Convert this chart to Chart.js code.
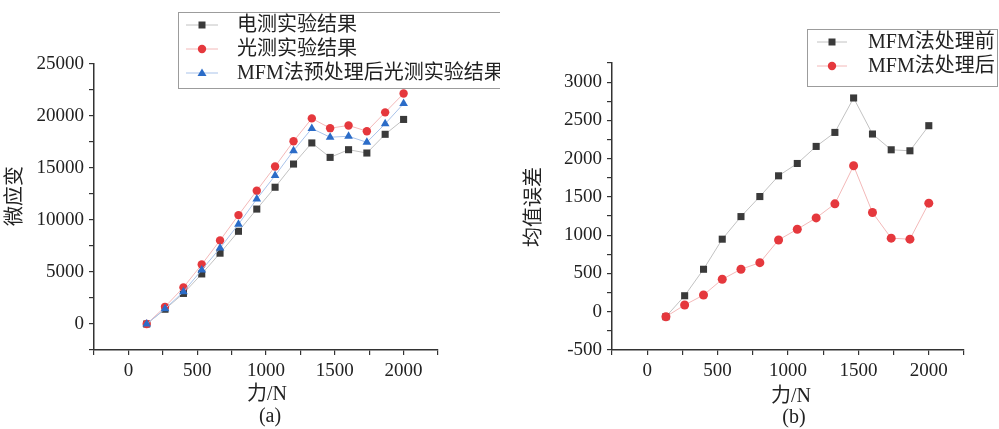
<!DOCTYPE html>
<html>
<head>
<meta charset="utf-8">
<title>微应变 / 均值误差</title>
<script src="https://cdn.jsdelivr.net/npm/chart.js@4.4.1/dist/chart.umd.min.js"></script>
<style>
  body { margin: 0; background: #fff; width: 999px; height: 429px; overflow: hidden; position: relative; }
  #left { position: absolute; left: 0; top: 0; }
  #right { position: absolute; left: 500px; top: 0; }
</style>
</head>
<body>
<canvas id="left" width="500" height="429"></canvas>
<canvas id="right" width="499" height="429"></canvas>
<script>
// force (N), same for every series
const forceN = [133, 266, 400, 533, 666, 800, 933, 1066, 1200, 1333, 1466, 1600, 1733, 1866, 2000]

// (a) micro strain
const strainElectric = [0, 1420, 2940, 4815, 6810, 8915, 11050, 13150, 15380, 17410, 16020, 16760, 16440, 18240, 19670]
const strainOptical = [0, 1650, 3520, 5720, 8040, 10470, 12820, 15150, 17570, 19770, 18830, 19090, 18540, 20350, 22160]
const strainMFM = [0, 1460, 3100, 5200, 7300, 9590, 12020, 14270, 16670, 18800, 17960, 18050, 17470, 19250, 21190]

// (b) mean error
const errBefore = [-65, 209, 555, 948, 1243, 1505, 1776, 1937, 2160, 2343, 2793, 2322, 2116, 2103, 2431]
const errAfter = [-65, 88, 218, 424, 555, 641, 938, 1078, 1226, 1410, 1907, 1296, 961, 948, 1419]

const labelsA = ['电测实验结果', '光测实验结果', 'MFM法预处理后光测实验结果']
const labelsB = ['MFM法处理前', 'MFM法处理后']

const FONT = "'Liberation Serif', 'Times New Roman', 'Noto Sans CJK SC', serif"
const BLACK = '#3a3a3a'
const RED = '#e5383d'
const BLUE = '#2b6cc8'

const pts = ys => ys.map((y, i) => ({ x: forceN[i], y: y }))

// legend box + axis titles, drawn on the canvas after the chart
function decor(o) {
    return {
        id: 'decor',
        afterDraw(chart) {
            const ctx = chart.ctx
            const a = chart.chartArea
            ctx.save()
            ctx.strokeStyle = '#9c9c9c'
            ctx.lineWidth = 1
            ctx.strokeRect(o.box[0] + 0.5, o.box[1] + 0.5, o.box[2], o.box[3])

            chart.data.datasets.forEach((ds, i) => {
                const y = o.rowY[i]
                ctx.strokeStyle = ds.borderColor
                ctx.lineWidth = 1
                ctx.beginPath()
                ctx.moveTo(o.lineX[0], y)
                ctx.lineTo(o.lineX[1], y)
                ctx.stroke()
                const mx = (o.lineX[0] + o.lineX[1]) / 2
                ctx.fillStyle = ds.pointBackgroundColor
                ctx.beginPath()
                if (ds.pointStyle === 'rect') ctx.rect(mx - 3.5, y - 3.5, 7, 7)
                else if (ds.pointStyle === 'circle') ctx.arc(mx, y, 4.2, 0, Math.PI * 2)
                else { ctx.moveTo(mx, y - 4.5); ctx.lineTo(mx + 4.5, y + 3); ctx.lineTo(mx - 4.5, y + 3); ctx.closePath() }
                ctx.fill()

                ctx.fillStyle = '#222'
                ctx.font = '20px ' + FONT
                ctx.textAlign = 'left'
                ctx.textBaseline = 'middle'
                ctx.fillText(ds.label, o.textX, y + 1)
            })

            ctx.fillStyle = '#222'
            ctx.textAlign = 'center'
            ctx.textBaseline = 'middle'
            ctx.font = '20px ' + FONT
            const cx = (a.left + a.right) / 2
            ctx.fillText('力/N', cx + o.titleShift, o.xTitleY)
            ctx.fillText(o.caption, cx + o.titleShift + 3, o.captionY)

            ctx.translate(o.yTitleX, o.yTitleY)
            ctx.rotate(-Math.PI / 2)
            ctx.fillText(o.yTitle, 0, 0)
            ctx.restore()
        }
    }
}

function axis(min, max, step, labelStep, size) {
    return {
        type: 'linear',
        min: min,
        max: max,
        afterFit: s => { if (s.isHorizontal()) s.height = size; else s.width = size },
        border: { display: true, color: '#333', width: 1.5 },
        grid: { drawOnChartArea: false, drawTicks: true, tickLength: 5, color: '#333', lineWidth: 1.2 },
        ticks: {
            stepSize: step,
            includeBounds: false,
            autoSkip: false,
            maxRotation: 0,
            padding: 5,
            color: '#222',
            font: { family: FONT, size: 19 },
            callback: v => (v % labelStep === 0 ? v : '')
        }
    }
}

function series(label, data, style, color, line, radius, order) {
    return {
        label: label,
        data: pts(data),
        showLine: true,
        borderColor: line,
        borderWidth: 1,
        pointStyle: style,
        pointRadius: radius,
        pointBackgroundColor: color,
        pointBorderColor: color,
        pointBorderWidth: 0,
        order: order
    }
}

// (a)
new Chart(document.getElementById('left'), {
    type: 'scatter',
    data: {
        datasets: [
            series(labelsA[0], strainElectric, 'rect', BLACK, '#c2c2c2', 5, 2),
            series(labelsA[1], strainOptical, 'circle', RED, '#f3b8b8', 4.2, 1),
            series(labelsA[2], strainMFM, 'triangle', BLUE, '#a9c3ea', 5, 0)
        ]
    },
    options: {
        responsive: false,
        animation: false,
        devicePixelRatio: 1,
        layout: { padding: { left: 0, right: 62, top: 64, bottom: 39 } },
        plugins: { legend: { display: false }, tooltip: { enabled: false } },
        scales: {
            x: axis(-250, 2250, 250, 500, 40),
            y: axis(-2500, 25000, 2500, 5000, 94)
        }
    },
    plugins: [decor({
        box: [178, 12, 335, 76], rowY: [25, 49, 73], lineX: [186, 218], textX: 237,
        xTitleY: 395, caption: '(a)', captionY: 417, titleShift: 1,
        yTitle: '微应变', yTitleX: 16, yTitleY: 196
    })]
})

// (b)
new Chart(document.getElementById('right'), {
    type: 'scatter',
    data: {
        datasets: [
            series(labelsB[0], errBefore, 'rect', BLACK, '#c2c2c2', 5, 1),
            series(labelsB[1], errAfter, 'circle', RED, '#f3b8b8', 4.5, 0)
        ]
    },
    options: {
        responsive: false,
        animation: false,
        devicePixelRatio: 1,
        layout: { padding: { left: 0, right: 35, top: 63, bottom: 39 } },
        plugins: { legend: { display: false }, tooltip: { enabled: false } },
        scales: {
            x: axis(-250, 2250, 250, 500, 40),
            y: axis(-500, 3250, 250, 500, 112)
        }
    },
    plugins: [decor({
        box: [307, 29, 190, 57], rowY: [42, 66], lineX: [317, 347], textX: 368,
        xTitleY: 397, caption: '(b)', captionY: 418, titleShift: 3,
        yTitle: '均值误差', yTitleX: 35, yTitleY: 207
    })]
})
</script>
</body>
</html>
